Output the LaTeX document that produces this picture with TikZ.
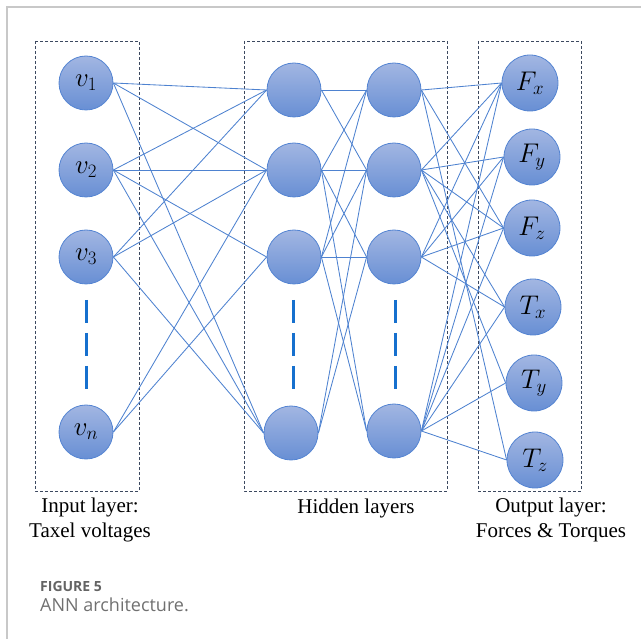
\documentclass[tikz,border=0pt]{standalone}
\usepackage{fix-cm}
\usepackage{fontspec}
\setmainfont{Liberation Serif}
\newfontfamily\capfont{Open Sans}
\definecolor{edgec}{RGB}{78,130,208}
\definecolor{ntop}{RGB}{162,182,226}
\definecolor{nbot}{RGB}{104,143,212}
\definecolor{nborder}{RGB}{84,132,210}
\definecolor{boxc}{RGB}{60,72,95}
\definecolor{dashc}{RGB}{22,112,206}
\definecolor{framec}{RGB}{200,200,200}
\definecolor{capA}{RGB}{100,100,100}
\definecolor{capB}{RGB}{112,112,112}
\begin{document}
\begin{tikzpicture}[x=1pt,y=-1pt,
  neuron/.style={circle, minimum size=54pt, inner sep=0pt, draw=nborder, line width=0.8pt,
                 top color=ntop, bottom color=nbot, font=\fontsize{27}{30}\selectfont},
  outneuron/.style={neuron, minimum size=56pt},
  conn/.style={draw=edgec, line width=0.85pt},
  layerbox/.style={draw=boxc, dash pattern=on 3pt off 2pt, line width=0.8pt},
  dotline/.style={draw=dashc, line width=3pt, dash pattern=on 23pt off 10pt},
  lbl/.style={font=\fontsize{21}{24.5}\selectfont, align=center, inner sep=0pt}]
\useasboundingbox (0,0) rectangle (641,639);
% page frame
\draw[framec, line width=1.2pt] (641,7) -- (7,7) -- (7,639);
% layer boxes
\draw[layerbox] (35,41) rectangle (139,491);
\draw[layerbox] (244,41) rectangle (447,491);
\draw[layerbox] (478,41) rectangle (581,491);
% nodes
\node[neuron] (v1) at (86,83) {$v_1$};
\node[neuron] (v2) at (86,170) {$v_2$};
\node[neuron] (v3) at (86,257) {$v_3$};
\node[neuron] (vn) at (86,432) {$v_n$};
\node[neuron] (h1) at (294,90) {};
\node[neuron] (h2) at (294,170) {};
\node[neuron] (h3) at (294,257) {};
\node[neuron] (h4) at (291,433) {};
\node[neuron] (g1) at (394,90) {};
\node[neuron] (g2) at (394,170) {};
\node[neuron] (g3) at (394,257) {};
\node[neuron] (g4) at (394,431) {};
\node[outneuron] (Fx) at (530,83) {$F_x$};
\node[outneuron] (Fy) at (532,157) {$F_y$};
\node[outneuron] (Fz) at (532,228) {$F_z$};
\node[outneuron] (Tx) at (533,307) {$T_x$};
\node[outneuron] (Ty) at (534,383) {$T_y$};
\node[outneuron] (Tz) at (535,460) {$T_z$};
% input -> hidden 1
\foreach \a/\b in {v1/h1,v1/h2,v1/h4,v2/h1,v2/h2,v2/h3,v2/h4,v3/h1,v3/h2,v3/h4,vn/h2,vn/h3}
  \draw[conn] (\a.east) -- (\b.west);
% hidden 1 -> hidden 2
\foreach \a/\b in {h1/g1,h1/g2,h2/g1,h2/g2,h2/g3,h2/g4,h3/g1,h3/g2,h3/g3,h3/g4,h4/g2,h4/g3}
  \draw[conn] (\a.east) -- (\b.west);
% hidden 2 -> output
\foreach \a/\b in {g1/Fx,g1/Fz,g1/Tz,g2/Fx,g2/Fy,g2/Fz,g2/Tx,g2/Ty,g3/Fx,g3/Fy,g3/Fz,g3/Tx,g4/Fx,g4/Fy,g4/Fz,g4/Tx,g4/Ty,g4/Tz}
  \draw[conn] (\a.east) -- (\b.west);
% vertical ellipsis dashes
\coordinate (d1a) at (86,300); \coordinate (d1b) at (86,389);
\coordinate (d2a) at (293,300); \coordinate (d2b) at (293,389);
\coordinate (d3a) at (395,300); \coordinate (d3b) at (395,389);
\draw[dotline] (d1a) -- (d1b);
\draw[dotline] (d2a) -- (d2b);
\draw[dotline] (d3a) -- (d3b);
% labels
\node[lbl] (linput) at (90,520) {Input layer:\\Taxel voltages};
\node[lbl] (lhidden) at (356,508) {Hidden layers};
\node[lbl] (loutput) at (551,520) {Output layer:\\Forces \& Torques};
% caption
\node[anchor=base west, inner sep=0pt, text=capA, font=\capfont\bfseries\fontsize{14}{16}\selectfont] (cap1) at (40,591) {FIGURE 5};
\node[anchor=base west, inner sep=0pt, text=capB, font=\capfont\fontsize{18}{20}\selectfont] (cap2) at (40,611) {ANN architecture.};
\end{tikzpicture}
\end{document}
